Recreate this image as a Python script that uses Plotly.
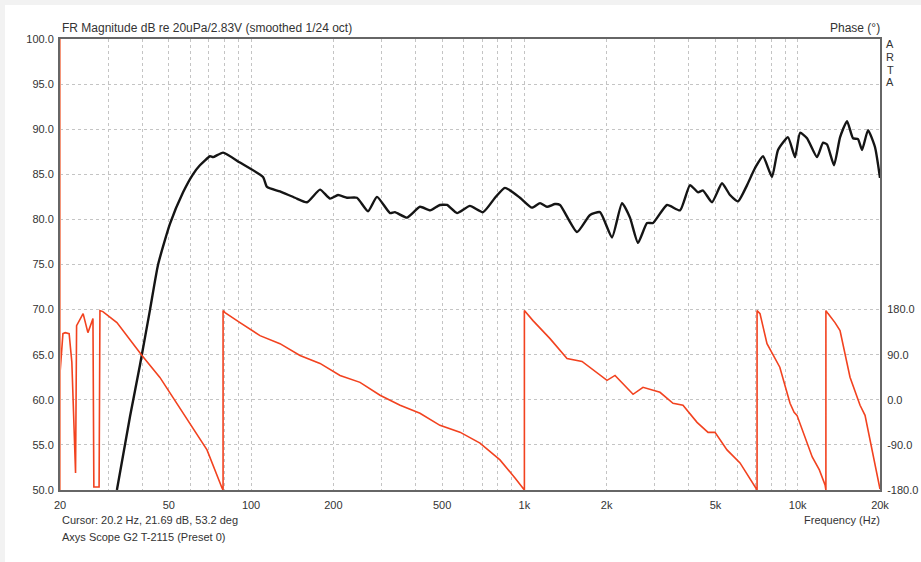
import plotly.graph_objects as go

# ---------------- data ----------------
mag_freq = [32.3, 36.1, 39.2, 42.7, 45.7, 50.5, 56.4, 61.3, 65.0, 70.8, 72.6, 79.0, 91.1,
            110.6, 114.4, 127.6, 144.8, 160.2, 178.8, 194.5, 208, 224.4, 244, 267.8, 288.8,
            322.4, 336, 372, 415, 452, 491, 521, 567, 632, 706, 781, 849, 964, 1066, 1141,
            1210, 1294, 1350, 1558, 1738, 1891, 2092, 2276, 2434, 2604, 2810, 2956, 3326,
            3710, 4036, 4318, 4504, 4858, 5284, 5654, 6048, 6526, 6980, 7466, 8052, 8470,
            9216, 9778, 10198, 10816, 11768, 12378, 12802, 13578, 14282, 15148, 15934,
            16620, 17190, 18080, 19180, 20000]
mag_db = [50.0, 58.2, 63.8, 70.0, 75.0, 79.5, 83.0, 85.0, 86.0, 87.0, 86.9, 87.4, 86.3,
          84.7, 83.6, 83.1, 82.4, 81.9, 83.3, 82.3, 82.7, 82.4, 82.4, 80.9, 82.5,
          80.7, 80.8, 80.2, 81.4, 81.0, 81.6, 81.6, 80.7, 81.5, 80.8, 82.4, 83.5, 82.4, 81.3, 81.8,
          81.4, 81.7, 81.6, 78.6, 80.5, 80.8, 78.0, 81.8, 80.2, 77.4, 79.6, 79.6, 81.6,
          81.0, 83.8, 83.0, 83.2, 81.9, 84.0, 82.7, 82.0, 83.8, 85.7, 87.0, 84.7, 87.7,
          89.1, 86.9, 89.6, 89.0, 86.9, 88.5, 88.3, 86.0, 89.1, 90.9, 89.0,
          88.9, 87.7, 89.9, 88.0, 84.6]

phase_freq = [20.0, 20.5, 20.9, 21.6, 22.1, 22.8, 23.0, 24.3, 25.3, 26.4, 26.6, 27.8, 28.0, 28.7,
              32.3, 39.9, 46.4, 56.4, 69.0, 78.3, 79, 79,
              80.3, 91.1, 107.8, 127.6, 151, 178.8, 211.6, 250.4, 296.4, 351, 415, 491, 581,
              688, 814, 924, 987, 1000, 1000,
              1075, 1241, 1432, 1625, 2006, 2146, 2498, 2716, 3134, 3498, 3804, 4282, 4698,
              4982, 5512, 6150, 6980, 7100, 7100,
              7278, 7720, 8052, 8600, 9372, 9700, 9940, 10500, 11300, 12000, 12590, 12680, 12680,
              12910, 13690, 14282, 14900, 15538, 16906, 17632, 20000]
phase_deg = [52.7, 132, 134, 132, 75, -146, 148, 172, 134, 162, -174, -174, 178, 176,
             154, 88.5, 44.7, -27, -100, -176, -180, 178,
             174, 154, 128, 112, 88.5, 72.6, 48.7, 34.8, 9, -11, -27, -51, -64.6,
             -86.5, -120, -156, -178, -180, 178,
             158, 122, 82.5, 76.6, 38.8, 48.7, 11, 25, 15, -7, -11, -45, -65,
             -65, -100, -126, -176, -180, 178,
             172, 112, 92.5, 65, -7, -25, -31, -66, -114, -140, -170, -180, 178,
             172, 154, 138, 94, 45, -11, -31, -178]

x_grid = [20, 30, 40, 50, 60, 70, 80, 90, 100, 200, 300, 400, 500, 600, 700, 800, 900,
          1000, 2000, 3000, 4000, 5000, 6000, 7000, 8000, 9000, 10000, 20000]
x_labels = {20: "20", 50: "50", 100: "100", 200: "200", 500: "500", 1000: "1k",
            2000: "2k", 5000: "5k", 10000: "10k", 20000: "20k"}
db_ticks = [50, 55, 60, 65, 70, 75, 80, 85, 90, 95, 100]
phase_ticks = [-180, -90, 0, 90, 180]

FONT = "Liberation Sans, Arial, sans-serif"
TXT = "#333333"

fig = go.Figure()
fig.add_trace(go.Scatter(x=phase_freq, y=phase_deg, yaxis="y2", mode="lines",
                         line=dict(color="#f2421f", width=1.6), hoverinfo="skip"))
fig.add_trace(go.Scatter(x=mag_freq, y=mag_db, mode="lines",
                         line=dict(color="#151515", width=2.4, shape="spline", smoothing=0.5),
                         hoverinfo="skip"))

fig.update_layout(
    width=921, height=562,
    margin=dict(l=60, r=41, t=39, b=72, autoexpand=False),
    paper_bgcolor="white", plot_bgcolor="white",
    showlegend=False,
    font=dict(family=FONT, size=11, color=TXT),
    xaxis=dict(type="log", range=[1.30103, 4.30103], automargin=False,
               tickvals=x_grid, ticktext=[x_labels.get(v, "") for v in x_grid],
               showgrid=True, gridcolor="#c4c4c4", griddash="dot", gridwidth=1,
               showline=True, linecolor="#666666", linewidth=2, mirror=True,
               ticks="outside", ticklen=4, tickcolor="rgba(0,0,0,0)",
               zeroline=False, tickfont=dict(size=11, color=TXT)),
    yaxis=dict(range=[50, 100], tickvals=db_ticks, automargin=False,
               ticktext=["%.1f" % v for v in db_ticks],
               showgrid=True, gridcolor="#c4c4c4", griddash="dot", gridwidth=1,
               showline=True, linecolor="#666666", linewidth=2, mirror=True,
               ticks="outside", ticklen=2, tickcolor="rgba(0,0,0,0)",
               zeroline=False, tickfont=dict(size=11, color=TXT)),
    yaxis2=dict(range=[-180, 720], overlaying="y", side="right", automargin=False,
                tickvals=phase_ticks, ticktext=["%.1f" % v for v in phase_ticks],
                showgrid=False, zeroline=False, showline=False,
                ticks="outside", ticklen=4, tickcolor="rgba(0,0,0,0)",
                tickfont=dict(size=11, color=TXT)),
)

# left edge highlighted line (as in original)
fig.add_shape(type="line", xref="x", yref="y", x0=20, x1=20, y0=50, y1=100,
              line=dict(color="#f5967a", width=2))
# light grey window edge
fig.add_shape(type="rect", xref="paper", yref="paper", x0=-0.0732, x1=1.05,
              y0=1.0754, y1=1.0865, line_width=0, fillcolor="#f2f2f2", layer="below")
fig.add_shape(type="rect", xref="paper", yref="paper", x0=-0.0732, x1=-0.0671,
              y0=-0.1596, y1=1.0865, line_width=0, fillcolor="#f2f2f2", layer="below")

H = 451.0
def py(pix):
    return (490 - pix) / H

ann = [
    dict(text="FR Magnitude dB re 20uPa/2.83V (smoothed 1/24 oct)", x=0, xanchor="left",
         y=py(28), size=12),
    dict(text="Phase (°)", x=1.002, xanchor="right", y=py(28), size=12),
    dict(text="Cursor: 20.2 Hz, 21.69 dB, 53.2 deg", x=0, xanchor="left", y=py(520), size=11),
    dict(text="Axys Scope G2 T-2115 (Preset 0)", x=0, xanchor="left", y=py(537), size=11),
    dict(text="Frequency (Hz)", x=1.002, xanchor="right", y=py(520), size=11),
]
for a in ann:
    sz = a.pop("size")
    fig.add_annotation(xref="paper", yref="paper", yanchor="middle", showarrow=False,
                       font=dict(family=FONT, size=sz, color=TXT), **a)
for ch, yp in zip("ARTA", [44, 57, 70, 82]):
    fig.add_annotation(text=ch, xref="paper", yref="paper", x=(890 - 60) / 820.0,
                       xanchor="center", y=py(yp), yanchor="middle", showarrow=False,
                       font=dict(family=FONT, size=11, color=TXT))

fig.write_html("out.html")
